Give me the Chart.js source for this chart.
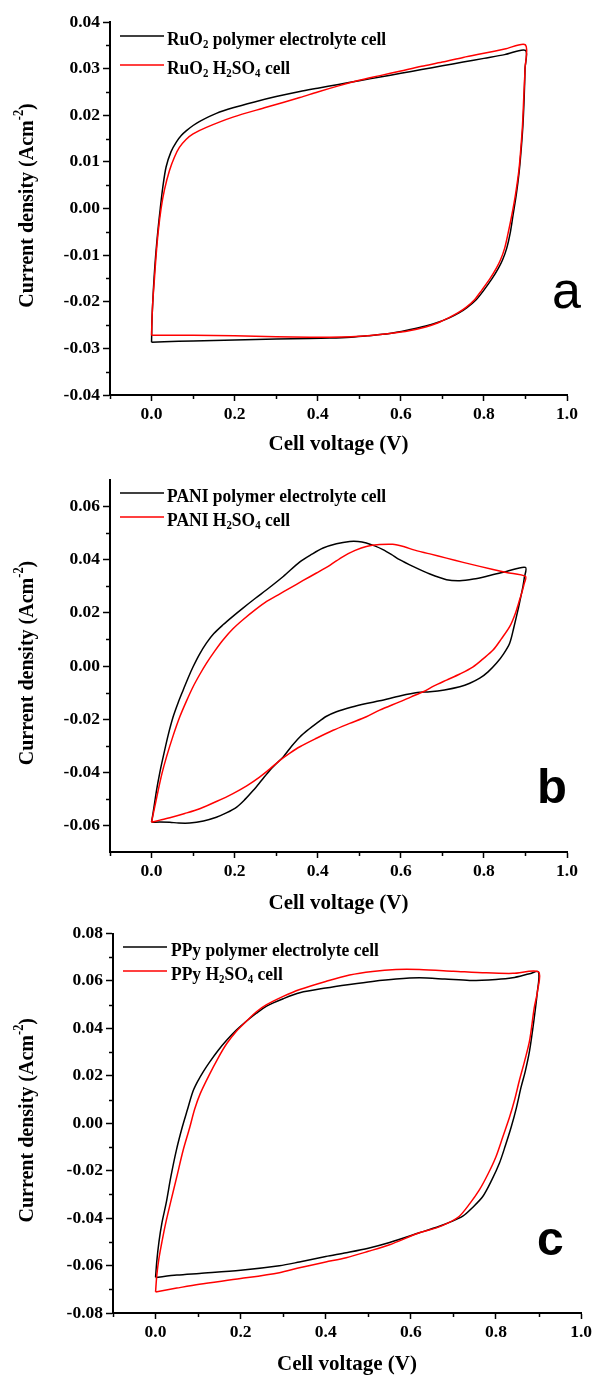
<!DOCTYPE html>
<html>
<head>
<meta charset="utf-8">
<script src="https://cdn.jsdelivr.net/npm/chart.js@4.4.1/dist/chart.umd.min.js"></script>
<style>
html,body{margin:0;padding:0;background:#fff;width:595px;height:1377px;overflow:hidden}
.p{position:absolute;left:0;width:595px}
canvas{display:block}
</style>
</head>
<body>
<div class="p" style="top:0;height:460px"><canvas id="ca" width="595" height="460"></canvas></div>
<div class="p" style="top:460px;height:460px"><canvas id="cb" width="595" height="460"></canvas></div>
<div class="p" style="top:920px;height:457px"><canvas id="cc" width="595" height="457"></canvas></div>
<script>
// ---------------- data ----------------
const xTickValues = [0, 0.2, 0.4, 0.6, 0.8, 1.0];
const xTickLabels = ['0.0', '0.2', '0.4', '0.6', '0.8', '1.0'];
const xMinorValues = [-0.1, 0.1, 0.3, 0.5, 0.7, 0.9];

const aYTickValues = [-0.04, -0.03, -0.02, -0.01, 0, 0.01, 0.02, 0.03, 0.04];
const aYTickLabels = ['-0.04', '-0.03', '-0.02', '-0.01', '0.00', '0.01', '0.02', '0.03', '0.04'];
const aYMinorValues = [-0.035, -0.025, -0.015, -0.005, 0.005, 0.015, 0.025, 0.035];

const bYTickValues = [-0.06, -0.04, -0.02, 0, 0.02, 0.04, 0.06];
const bYTickLabels = ['-0.06', '-0.04', '-0.02', '0.00', '0.02', '0.04', '0.06'];
const bYMinorValues = [-0.05, -0.03, -0.01, 0.01, 0.03, 0.05];

const cYTickValues = [-0.08, -0.06, -0.04, -0.02, 0, 0.02, 0.04, 0.06, 0.08];
const cYTickLabels = ['-0.08', '-0.06', '-0.04', '-0.02', '0.00', '0.02', '0.04', '0.06', '0.08'];
const cYMinorValues = [-0.07, -0.05, -0.03, -0.01, 0.01, 0.03, 0.05, 0.07];

const aLabels = ['RuO₂ polymer electrolyte cell', 'RuO₂ H₂SO₄ cell'];
const bLabels = ['PANI polymer electrolyte cell', 'PANI H₂SO₄ cell'];
const cLabels = ['PPy polymer electrolyte cell', 'PPy H₂SO₄ cell'];
const panelLetters = ['a', 'b', 'c'];

// panel a : RuO2
const aPolyV = [0,0.001,0.003,0.006,0.01,0.015,0.021,0.027,0.035,0.047,0.06,0.072,0.084,0.1,0.116,0.156,0.196,0.25,0.3,0.357,0.4,0.45,0.5,0.55,0.6,0.65,0.7,0.75,0.8,0.85,0.9,
  0.899,0.897,0.894,0.89,0.885,0.878,0.87,0.863,0.855,0.845,0.835,0.82,0.8,0.782,0.76,0.74,0.718,0.69,0.66,0.62,0.573,0.52,0.48,0.429,0.38,0.3,0.2,0.1,0.03,0];
const aPolyJ = [-0.0287,-0.024,-0.02,-0.015,-0.01,-0.005,0,0.0045,0.0089,0.0122,0.0143,0.0157,0.0167,0.0178,0.0187,0.0204,0.0216,0.0229,0.024,0.0251,0.0258,0.0266,0.0274,0.0282,0.029,0.0298,0.0306,0.0314,0.0322,0.033,0.0339,
  0.03,0.024,0.018,0.013,0.008,0.003,-0.0015,-0.0054,-0.0085,-0.011,-0.0128,-0.015,-0.0175,-0.0195,-0.0212,-0.0224,-0.0234,-0.0244,-0.0252,-0.026,-0.0268,-0.0273,-0.0276,-0.0278,-0.0279,-0.028,-0.0282,-0.0284,-0.0286,-0.0287];
const aAcidV = [0,0.001,0.003,0.007,0.011,0.016,0.023,0.031,0.043,0.055,0.067,0.083,0.1,0.132,0.196,0.276,0.357,0.4,0.45,0.5,0.55,0.6,0.65,0.7,0.75,0.8,0.85,0.9,
  0.899,0.896,0.893,0.889,0.884,0.876,0.867,0.858,0.85,0.84,0.83,0.815,0.795,0.778,0.757,0.737,0.716,0.69,0.66,0.62,0.573,0.52,0.48,0.429,0.38,0.3,0.2,0.1,0.03,0];
const aAcidJ = [-0.0272,-0.024,-0.02,-0.015,-0.01,-0.005,0,0.004,0.0081,0.011,0.0131,0.0148,0.016,0.0174,0.0196,0.0217,0.0238,0.025,0.0263,0.0275,0.0285,0.0295,0.0305,0.0314,0.0324,0.0333,0.0342,0.0351,
  0.03,0.024,0.018,0.013,0.008,0.003,-0.0015,-0.0054,-0.0085,-0.011,-0.0128,-0.015,-0.0175,-0.0195,-0.0212,-0.0224,-0.0234,-0.0245,-0.0254,-0.0262,-0.0268,-0.0273,-0.0275,-0.0276,-0.0276,-0.0275,-0.0273,-0.0272,-0.0272,-0.0272];

// panel b : PANI
const bPolyV = [0,0.005,0.012,0.02,0.028,0.04,0.052,0.064,0.076,0.088,0.1,0.115,0.132,0.15,0.172,0.195,0.22,0.25,0.277,0.317,0.357,0.385,0.413,0.445,0.477,0.497,0.517,0.537,0.557,0.577,0.597,0.629,0.67,0.71,0.742,0.775,0.805,0.854,0.9,
  0.897,0.894,0.888,0.882,0.872,0.862,0.847,0.83,0.81,0.79,0.766,0.742,0.705,0.67,0.64,0.6,0.549,0.517,0.48,0.445,0.42,0.397,0.377,0.357,0.337,0.317,0.3,0.285,0.265,0.245,0.225,0.205,0.18,0.156,0.125,0.092,0.065,0.044,0.02,0];
const bPolyJ = [-0.0588,-0.054,-0.0468,-0.04,-0.0342,-0.026,-0.0191,-0.0138,-0.0091,-0.0045,-0.0003,0.0043,0.0086,0.0122,0.0155,0.0186,0.0218,0.0255,0.0287,0.0337,0.0392,0.042,0.0444,0.046,0.0469,0.0469,0.0463,0.0452,0.0438,0.042,0.04,0.0375,0.0346,0.0325,0.0321,0.0327,0.0337,0.0356,0.0371,
  0.033,0.03,0.0255,0.0211,0.0145,0.0086,0.0045,0.001,-0.0022,-0.0046,-0.0065,-0.0078,-0.009,-0.0097,-0.01,-0.0112,-0.0131,-0.0141,-0.0155,-0.0172,-0.019,-0.0216,-0.024,-0.0267,-0.0302,-0.0342,-0.0368,-0.0392,-0.043,-0.0468,-0.0502,-0.0531,-0.0553,-0.0569,-0.0583,-0.0591,-0.0591,-0.0588,-0.0587,-0.0588];
const bAcidV = [0,0.005,0.016,0.025,0.036,0.052,0.068,0.084,0.1,0.116,0.132,0.152,0.172,0.196,0.22,0.25,0.277,0.305,0.333,0.365,0.397,0.43,0.461,0.49,0.517,0.549,0.58,0.61,0.629,0.67,0.71,0.75,0.79,0.854,0.9,
  0.897,0.892,0.886,0.875,0.862,0.842,0.822,0.798,0.774,0.742,0.71,0.68,0.654,0.625,0.597,0.549,0.517,0.477,0.437,0.397,0.357,0.333,0.309,0.285,0.26,0.23,0.196,0.156,0.116,0.08,0.044,0.02,0];
const bAcidJ = [-0.0588,-0.055,-0.0468,-0.0405,-0.0342,-0.0262,-0.0191,-0.0132,-0.0078,-0.0032,0.001,0.0056,0.0098,0.014,0.0174,0.0212,0.0243,0.0268,0.0293,0.0322,0.035,0.038,0.0412,0.0435,0.045,0.0457,0.0458,0.0448,0.0438,0.0422,0.0406,0.039,0.0375,0.0352,0.0337,
  0.031,0.028,0.0249,0.0195,0.0148,0.0102,0.006,0.0027,-0.0003,-0.003,-0.0053,-0.0075,-0.0097,-0.0116,-0.0135,-0.0166,-0.0191,-0.0216,-0.0242,-0.0272,-0.0304,-0.0328,-0.0355,-0.0387,-0.0418,-0.045,-0.048,-0.051,-0.0537,-0.0555,-0.0571,-0.058,-0.0588];

// panel c : PPy
const cPolyV = [0,0.003,0.008,0.015,0.025,0.036,0.049,0.063,0.075,0.088,0.1,0.113,0.127,0.147,0.167,0.19,0.214,0.237,0.261,0.3,0.339,0.4,0.456,0.51,0.565,0.62,0.68,0.738,0.8,0.839,0.879,0.9,
  0.897,0.89,0.879,0.869,0.859,0.848,0.836,0.822,0.808,0.79,0.769,0.745,0.722,0.695,0.667,0.62,0.55,0.5,0.448,0.4,0.338,0.291,0.2,0.103,0.05,0];
const cPolyJ = [-0.065,-0.058,-0.05,-0.042,-0.0336,-0.0225,-0.0113,-0.0015,0.0058,0.0135,0.018,0.022,0.0258,0.0307,0.035,0.0393,0.0431,0.0464,0.0494,0.0525,0.055,0.057,0.0585,0.0598,0.0608,0.0613,0.0608,0.0602,0.0606,0.0613,0.063,0.0638,
  0.055,0.0445,0.0306,0.022,0.0152,0.0065,-0.0015,-0.0095,-0.0169,-0.024,-0.0309,-0.0355,-0.0392,-0.0415,-0.0434,-0.0462,-0.0503,-0.0527,-0.0546,-0.0562,-0.0585,-0.0601,-0.062,-0.0633,-0.064,-0.065];
const cAcidV = [0,0.003,0.008,0.015,0.024,0.035,0.05,0.065,0.08,0.092,0.105,0.125,0.147,0.167,0.19,0.214,0.237,0.261,0.3,0.339,0.4,0.456,0.51,0.565,0.62,0.7,0.777,0.84,0.9,
  0.898,0.89,0.879,0.867,0.855,0.844,0.832,0.816,0.8,0.781,0.761,0.738,0.714,0.688,0.66,0.62,0.55,0.5,0.448,0.4,0.338,0.291,0.2,0.103,0.05,0];
const cAcidJ = [-0.0711,-0.064,-0.057,-0.05,-0.042,-0.0336,-0.0225,-0.0113,-0.002,0.006,0.0125,0.02,0.0275,0.0335,0.0388,0.0431,0.047,0.05,0.0535,0.0564,0.0598,0.0625,0.064,0.0648,0.0648,0.0641,0.0634,0.0632,0.0638,
  0.056,0.0487,0.0348,0.026,0.018,0.01,0.0026,-0.0058,-0.0141,-0.0215,-0.0281,-0.034,-0.0392,-0.042,-0.0441,-0.0462,-0.0512,-0.054,-0.0567,-0.0585,-0.0609,-0.063,-0.0655,-0.0679,-0.0695,-0.0711];

// ---------------- rendering ----------------
const SERIF = '"Liberation Serif", "Times New Roman", Times, serif';
const SANS = '"Liberation Sans", Arial, Helvetica, sans-serif';
const COLORS = ['#000000', '#ff0000'];
const Y_TITLE = 'Current density (Acm⁻²)';
const X_TITLE = 'Cell voltage (V)';

const SUB = {'₀':'0','₁':'1','₂':'2','₃':'3','₄':'4','₅':'5','₆':'6','₇':'7','₈':'8','₉':'9'};
const SUP = {'⁻':'-','²':'2','³':'3','¹':'1'};

function segments(str) {
  const segs = [];
  for (const ch of str) {
    let mode = 'n', t = ch;
    if (SUB[ch]) { mode = 'sub'; t = SUB[ch]; }
    else if (SUP[ch]) { mode = 'sup'; t = SUP[ch]; }
    const last = segs[segs.length - 1];
    if (last && last.mode === mode) last.t += t; else segs.push({t, mode});
  }
  return segs;
}
function drawRich(ctx, str, x, y, size, weight, sx, align) {
  const segs = segments(str);
  const fN = weight + ' ' + size + 'px ' + SERIF;
  const fS = weight + ' ' + (size * 0.62).toFixed(1) + 'px ' + SERIF;
  let w = 0;
  segs.forEach(s => { ctx.font = s.mode === 'n' ? fN : fS; s.w = ctx.measureText(s.t).width; w += s.w; });
  ctx.save();
  ctx.translate(x, y);
  ctx.scale(sx, 1);
  ctx.textBaseline = 'alphabetic';
  ctx.textAlign = 'left';
  let cx = align === 'center' ? -w / 2 : 0;
  segs.forEach(s => {
    ctx.font = s.mode === 'n' ? fN : fS;
    const dy = s.mode === 'sub' ? size * 0.2 : (s.mode === 'sup' ? -size * 0.42 : 0);
    ctx.fillText(s.t, cx, dy);
    cx += s.w;
  });
  ctx.restore();
}

const decorPlugin = {
  id: 'decor',
  afterDraw(chart, args, o) {
    const {ctx, chartArea: a, scales: {x, y}} = chart;
    ctx.save();
    // minor ticks
    ctx.strokeStyle = '#000';
    ctx.lineWidth = 1.5;
    o.xMinor.forEach(v => {
      const px = Math.round(x.getPixelForValue(v)) + 0.5;
      ctx.beginPath(); ctx.moveTo(px, a.bottom); ctx.lineTo(px, a.bottom + 4); ctx.stroke();
    });
    o.yMinor.forEach(v => {
      const py = Math.round(y.getPixelForValue(v)) + 0.5;
      ctx.beginPath(); ctx.moveTo(a.left - 4, py); ctx.lineTo(a.left, py); ctx.stroke();
    });
    // legend
    chart.data.datasets.forEach((ds, i) => {
      const ly = o.lg.y + i * o.lg.gap;
      ctx.strokeStyle = ds.borderColor;
      ctx.lineWidth = 1.6;
      ctx.beginPath(); ctx.moveTo(o.lg.x1, ly); ctx.lineTo(o.lg.x2, ly); ctx.stroke();
      ctx.fillStyle = '#000';
      drawRich(ctx, ds.label, o.lg.tx, ly + 8.5, 19, 'bold', 0.92, 'left');
    });
    // y title
    ctx.save();
    ctx.fillStyle = '#000';
    ctx.translate(25, (a.top + a.bottom) / 2 - 3);
    ctx.rotate(-Math.PI / 2);
    drawRich(ctx, Y_TITLE, 0, 7.5, 22, 'bold', 0.91, 'center');
    ctx.restore();
    // panel letter
    ctx.fillStyle = '#000';
    ctx.font = o.letter.font;
    ctx.textAlign = 'left';
    ctx.textBaseline = 'alphabetic';
    ctx.fillText(o.letter.text, o.letter.x, o.letter.y);
    ctx.restore();
  }
};

function makePanel(id, o) {
  const tickFont = {family: SERIF, size: 17.5, weight: 'bold'};
  return new Chart(document.getElementById(id), {
    type: 'scatter',
    data: {
      datasets: o.series.map((s, i) => ({
        label: o.labels[i],
        data: s[0].map((v, k) => ({x: v, y: s[1][k]})),
        showLine: true,
        borderColor: COLORS[i],
        backgroundColor: COLORS[i],
        borderWidth: 1.5,
        pointRadius: 0,
        pointHoverRadius: 0,
        tension: 0.3,
        fill: false,
        order: 1 - i
      }))
    },
    options: {
      responsive: false,
      animation: false,
      events: [],
      layout: {padding: {left: 0, right: 595 - o.area.right, top: o.area.top, bottom: 0}},
      plugins: {
        legend: {display: false},
        tooltip: {enabled: false},
        decor: {xMinor: xMinorValues, yMinor: o.yMinor, lg: o.lg, letter: o.letter}
      },
      scales: {
        x: {
          type: 'linear', min: -0.1, max: 1.0,
          afterFit: s => { s.height = o.h - o.area.bottom; },
          afterBuildTicks: s => { s.ticks = xTickValues.map(v => ({value: v})); },
          ticks: {callback: (v, i) => xTickLabels[i], font: tickFont, color: '#000', padding: 3, autoSkip: false, maxRotation: 0},
          grid: {drawOnChartArea: false, drawTicks: true, tickLength: 6, tickWidth: 1.5, tickColor: '#000', color: '#000'},
          border: {display: true, color: '#000', width: 2},
          title: {display: true, text: X_TITLE, font: {family: SERIF, size: 21, weight: 'bold'}, color: '#000', padding: {top: 0, bottom: o.titlePad}}
        },
        y: {
          type: 'linear', min: o.yMin, max: o.yMax,
          afterFit: s => { s.width = o.area.left; },
          afterBuildTicks: s => { s.ticks = o.yTicks.map(v => ({value: v})); },
          ticks: {callback: (v, i) => o.yLabels[i], font: tickFont, color: '#000', padding: 3, autoSkip: false},
          grid: {drawOnChartArea: false, drawTicks: true, tickLength: 7, tickWidth: 1.5, tickColor: '#000', color: '#000'},
          border: {display: true, color: '#000', width: 2}
        }
      }
    },
    plugins: [decorPlugin]
  });
}

makePanel('ca', {
  h: 460, area: {left: 110, right: 567, top: 22, bottom: 395}, titlePad: 3,
  yMin: -0.04, yMax: 0.04, yTicks: aYTickValues, yLabels: aYTickLabels, yMinor: aYMinorValues,
  series: [[aPolyV, aPolyJ], [aAcidV, aAcidJ]], labels: aLabels,
  lg: {x1: 120, x2: 164, tx: 167, y: 36, gap: 29},
  letter: {text: panelLetters[0], x: 552, y: 308, font: '52px ' + SANS}
});
makePanel('cb', {
  h: 460, area: {left: 110, right: 567, top: 20, bottom: 392}, titlePad: 4,
  yMin: -0.07, yMax: 0.07, yTicks: bYTickValues, yLabels: bYTickLabels, yMinor: bYMinorValues,
  series: [[bPolyV, bPolyJ], [bAcidV, bAcidJ]], labels: bLabels,
  lg: {x1: 120, x2: 164, tx: 167, y: 33, gap: 24},
  letter: {text: panelLetters[1], x: 537, y: 343, font: 'bold 49px ' + SANS}
});
makePanel('cc', {
  h: 457, area: {left: 113, right: 582, top: 12, bottom: 393}, titlePad: 0,
  yMin: -0.08, yMax: 0.08, yTicks: cYTickValues, yLabels: cYTickLabels, yMinor: cYMinorValues,
  series: [[cPolyV, cPolyJ], [cAcidV, cAcidJ]], labels: cLabels,
  lg: {x1: 123, x2: 167, tx: 171, y: 27, gap: 24},
  letter: {text: panelLetters[2], x: 537, y: 335, font: 'bold 48px ' + SANS}
});
</script>
</body>
</html>
